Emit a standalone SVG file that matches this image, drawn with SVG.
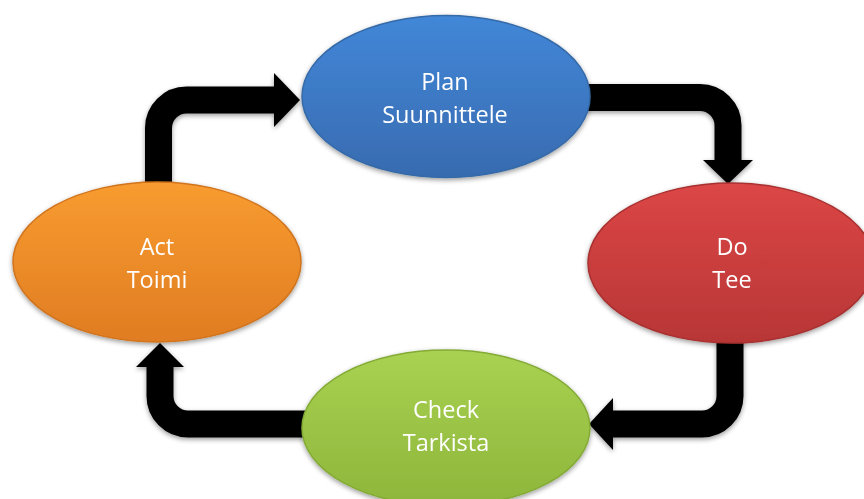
<svg xmlns="http://www.w3.org/2000/svg" width="864" height="499" viewBox="0 0 864 499">
  <defs>
    <style>
      .shaft { fill: none; stroke: #050505; stroke-width: 27; stroke-linecap: butt; }
      .head { fill: #050505; }
      .node { stroke-width: 1.5; }
      .label { font-family: "Open Sans", "Liberation Sans", sans-serif; font-size: 23.5px; fill: #ffffff; text-anchor: middle; }
    </style>
    <linearGradient id="gBlue" x1="0" y1="0" x2="0" y2="1">
      <stop offset="0" stop-color="#4287d8"/>
      <stop offset="1" stop-color="#386bb0"/>
    </linearGradient>
    <linearGradient id="gRed" x1="0" y1="0" x2="0" y2="1">
      <stop offset="0" stop-color="#dc4646"/>
      <stop offset="1" stop-color="#b83636"/>
    </linearGradient>
    <linearGradient id="gOrange" x1="0" y1="0" x2="0" y2="1">
      <stop offset="0" stop-color="#f89c30"/>
      <stop offset="1" stop-color="#e07c22"/>
    </linearGradient>
    <linearGradient id="gGreen" x1="0" y1="0" x2="0" y2="1">
      <stop offset="0" stop-color="#a9d252"/>
      <stop offset="1" stop-color="#8db63b"/>
    </linearGradient>
    <filter id="shadow" x="-10%" y="-10%" width="120%" height="130%">
      <feGaussianBlur in="SourceAlpha" stdDeviation="2.5"/>
      <feOffset dx="0" dy="2" result="b"/>
      <feComponentTransfer><feFuncA type="linear" slope="0.4"/></feComponentTransfer>
      <feMerge><feMergeNode/><feMergeNode in="SourceGraphic"/></feMerge>
    </filter>
  </defs>

  <rect width="864" height="499" fill="#ffffff"/>

  <g id="connectors" filter="url(#shadow)">
    <path class="shaft" d="M158.5,184 V128 A28,28 0 0 1 186.5,100 H276"/>
    <polygon class="head" points="274,73 300,100 274,127"/>
    <path class="shaft" d="M585,97.5 H700 A28,28 0 0 1 728,125.5 V162"/>
    <polygon class="head" points="703,160 753,160 728,184"/>
    <path class="shaft" d="M730,338 V396 A28,28 0 0 1 702,424 H611"/>
    <polygon class="head" points="613,398 613,450 589,424"/>
    <path class="shaft" d="M305,424 H188 A28,28 0 0 1 160,396 V365"/>
    <polygon class="head" points="136,367 184,367 160,343"/>
  </g>

  <g id="plan" filter="url(#shadow)">
    <ellipse class="node" cx="446" cy="96.5" rx="144" ry="81" fill="url(#gBlue)" stroke="#356aa8"/>
    <text class="label" x="445" y="90">Plan</text>
    <text class="label" x="445" y="123">Suunnittele</text>
  </g>

  <g id="do" filter="url(#shadow)">
    <ellipse class="node" cx="731" cy="263" rx="143" ry="80" fill="url(#gRed)" stroke="#a83030"/>
    <text class="label" x="732" y="255">Do</text>
    <text class="label" x="732" y="288">Tee</text>
  </g>

  <g id="act" filter="url(#shadow)">
    <ellipse class="node" cx="157" cy="262" rx="144" ry="80" fill="url(#gOrange)" stroke="#d0741e"/>
    <text class="label" x="157" y="255">Act</text>
    <text class="label" x="157" y="288">Toimi</text>
  </g>

  <g id="check" filter="url(#shadow)">
    <ellipse class="node" cx="446" cy="428" rx="144" ry="78" fill="url(#gGreen)" stroke="#84ab36"/>
    <text class="label" x="446" y="418">Check</text>
    <text class="label" x="446" y="451">Tarkista</text>
  </g>
</svg>
